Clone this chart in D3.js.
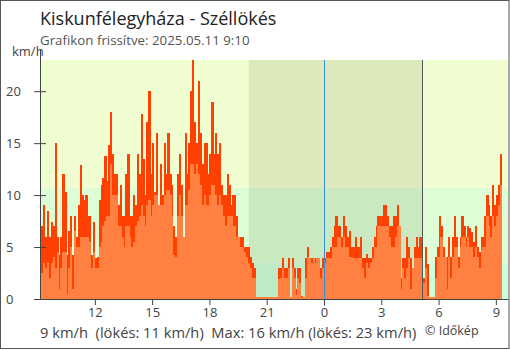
<!DOCTYPE html>
<html>
<head>
<meta charset="utf-8">
<title>Kiskunfélegyháza - Széllökés</title>
<script src="https://cdn.jsdelivr.net/npm/d3@7"></script>
<style>
  body { margin: 0; background: #fff; }
  text { font-family: "Open Sans", sans-serif; }
</style>
</head>
<body>
<script>

// wind data, one value every 6 minutes from 2025.05.10 9:12
var gust = [
  7, 9, 6, 8.5, 6, 7.4, 7, 15, 6, 4.2,
  6, 12, 10.3, 4.2, 6.5, 8, 4.2, 8, 6, 9,
  12.9, 10, 9.5, 10, 8, 8, 4.2, 7.4, 3.9, 4,
  9.5, 11, 11.6, 13.8, 11.4, 14.8, 18, 14, 12, 12,
  9, 11, 8, 8, 12, 14, 8, 8, 10, 9,
  14, 12, 17.8, 13.5, 10, 17, 20, 12, 15, 10.3,
  16, 8, 13, 10, 15, 12, 16, 12, 11, 7,
  6, 12, 14, 11, 6, 16, 12, 15, 20, 23,
  17, 15, 21, 16, 13, 15, 15, 12, 14, 19,
  14, 16, 14, 15, 11, 10, 10, 12, 11, 9,
  10, 10, 8, 6, 6, 6, 5, 5, 5, 4,
  3.5, 3, 0.2, 0.2, 0.2, 0.2, 0.2, 0.2, 0.2, 0.2,
  0.2, 0.2, 0.2, 0.2, 3, 3, 3.9, 3, 3, 3.9,
  0.2, 3.9, 3, 1, 3, 3, 0.3, 0.2, 3.9, 5,
  3.9, 3.9, 3.9, 3.9, 3.9, 3.9, 3, 3.9, 3.9, 4.5,
  4.5, 5, 6, 7, 8, 7, 7, 6, 8, 7,
  6, 6.5, 5, 5, 6, 5, 5, 6, 3.9, 3.9,
  4.3, 3.9, 3.9, 5, 6, 7, 8, 8, 8, 9,
  9, 8, 7, 7, 8, 8, 9, 7, 2, 3.9,
  3.9, 6, 5, 3.9, 3, 5, 6, 5, 6, 1,
  2, 5, 3.4, 0.2, 0.2, 0.2, 4, 5, 8, 7,
  5, 4, 4, 6, 4, 6, 8, 6, 4, 6,
  8, 7, 6, 7, 6.8, 6.4, 5.5, 7, 5, 4.5,
  6, 6, 8, 10, 9, 8, 11, 9, 10, 11, 14
];
var avg = [
  2.5, 3.5, 3, 3.6, 2, 3.5, 4, 3, 4.5, 1,
  3, 4.5, 4.5, 0.5, 3, 5, 1, 6.5, 5, 5,
  6, 6, 6, 6, 6, 5.5, 3, 4.5, 3, 3,
  5, 5.5, 7, 7.5, 8, 8, 13, 10, 10, 10,
  7, 7, 6, 5, 7, 7, 6, 5, 5.5, 7,
  7.5, 8, 9, 8, 7, 9, 9.5, 8, 9, 10,
  10, 9, 9, 9, 10, 10.5, 10.5, 10, 8, 4.2,
  4, 8, 10, 8, 6, 9, 9, 10.5, 13, 13,
  12, 13, 12, 11, 9, 10, 9, 9, 10, 11,
  11, 10, 9, 10, 9, 8, 7, 8, 8, 8,
  7, 7, 6, 6, 5, 5, 4.5, 4, 3.5, 3,
  2, 2, 0.2, 0.2, 0.2, 0.2, 0.2, 0.2, 0.2, 0.2,
  0.2, 0.2, 0.2, 0.2, 1.9, 2, 3, 2, 2, 3,
  0.2, 3, 2, 0.4, 2, 1.5, 0.2, 0.2, 2, 4,
  3.9, 3.5, 3.9, 3.5, 3.9, 3.9, 2, 3, 3.5, 3.9,
  3.9, 3.9, 5, 5, 5, 6, 6, 5, 6, 5,
  5, 4, 4, 3.9, 3.9, 3.9, 3.9, 3.9, 3, 2,
  3.5, 3, 3.5, 3.9, 5, 5, 7, 7, 7, 7,
  7, 7, 6, 5, 5, 6, 7, 7, 1, 3,
  2, 3, 3.9, 1, 3, 3.9, 3.9, 3.9, 3.9, 0.4,
  1.5, 3, 0.3, 0.2, 0.2, 0.2, 2, 4, 4, 6,
  4, 4, 1, 4, 2, 4, 5, 5, 3, 5,
  6, 6, 5, 6, 5, 5, 4, 5, 4, 3,
  4.7, 5, 5, 8, 7, 6, 8, 7, 8, 9, 11
];
var yTicks = [0, 5, 10, 15, 20];
var bandLimits = [0, 3.5, 10.7, 23];
var bandColors = ["#cbffdc", "#dcfdd6", "#effdd0"];

var startTime = new Date(2025, 4, 10, 9, 12);
var stepMin = 6;
var sunset = new Date(2025, 4, 10, 20, 4);
var midnight = new Date(2025, 4, 11, 0, 0);
var sunrise = new Date(2025, 4, 11, 5, 8);

var w = 510, h = 350;
var pLeft = 40, pRight = 508, pTop = 60, pBottom = 299;

var svg = d3.select("body").append("svg")
  .attr("width", w)
  .attr("height", h);

var x = d3.scaleTime()
  .domain([new Date(2025, 4, 10, 9, 7, 40), new Date(2025, 4, 11, 9, 38, 10)])
  .range([pLeft, pRight]);
var y = d3.scaleLinear().domain([0, 23]).range([pBottom, pTop]);

function tAt(i) { return new Date(startTime.getTime() + i * stepMin * 60000); }
var bw = x(tAt(1)) - x(tAt(0));

// background bands
for (var b = 0; b < bandColors.length; b++) {
  svg.append("rect")
    .attr("x", pLeft).attr("width", pRight - pLeft)
    .attr("y", y(bandLimits[b + 1]))
    .attr("height", y(bandLimits[b]) - y(bandLimits[b + 1]))
    .attr("fill", bandColors[b]);
}

// night
svg.append("rect")
  .attr("x", x(sunset)).attr("width", x(sunrise) - x(sunset))
  .attr("y", pTop).attr("height", pBottom - pTop)
  .attr("fill", "rgba(60,60,0,0.1)");

// gust bars, then average on top
svg.append("g").selectAll("rect")
  .data(gust).enter().append("rect")
  .attr("x", function(d, i) { return x(tAt(i)); })
  .attr("width", bw + 0.3)
  .attr("y", function(d) { return y(d); })
  .attr("height", function(d) { return pBottom - y(d); })
  .attr("fill", "#ff4000")
  .attr("shape-rendering", "crispEdges");

svg.append("g").selectAll("rect")
  .data(avg).enter().append("rect")
  .attr("x", function(d, i) { return x(tAt(i)); })
  .attr("width", bw + 0.3)
  .attr("y", function(d) { return y(d); })
  .attr("height", function(d) { return pBottom - y(d); })
  .attr("fill", "#ff8040")
  .attr("shape-rendering", "crispEdges");

// midnight and sunrise lines
svg.append("line")
  .attr("x1", Math.round(x(midnight)) + 0.5).attr("x2", Math.round(x(midnight)) + 0.5)
  .attr("y1", pTop).attr("y2", pBottom + 7)
  .attr("stroke", "#2f8fe0");
svg.append("line")
  .attr("x1", Math.round(x(sunrise)) + 0.5).attr("x2", Math.round(x(sunrise)) + 0.5)
  .attr("y1", pTop).attr("y2", pBottom)
  .attr("stroke", "#555");

// axes
var xAxis = svg.append("g")
  .attr("transform", "translate(0," + pBottom + ")")
  .call(d3.axisBottom(x).ticks(d3.timeHour.every(3)).tickFormat(d3.timeFormat("%-H")).tickSize(6).tickPadding(3).tickSizeOuter(0));
xAxis.select(".domain").attr("stroke", "#444");
xAxis.selectAll(".tick line").attr("stroke", "#444");
xAxis.selectAll(".tick text").attr("font-size", "13px").attr("fill", "#444")
  .attr("font-family", "Open Sans");

var yAxis = svg.append("g")
  .attr("transform", "translate(" + pLeft + ",0)")
  .call(d3.axisLeft(y).tickValues(yTicks).tickSize(6).tickSizeOuter(0));
yAxis.select(".domain").remove();
yAxis.selectAll(".tick line").attr("x2", 6).attr("x1", -6).attr("stroke", "#444");
yAxis.selectAll(".tick text").attr("x", -34).attr("text-anchor", "start")
  .attr("font-size", "13px").attr("fill", "#444").attr("font-family", "Open Sans");
svg.append("line")
  .attr("x1", pLeft + 0.5).attr("x2", pLeft + 0.5)
  .attr("y1", 50).attr("y2", pBottom)
  .attr("stroke", "#444");

// frame
svg.append("rect")
  .attr("x", 0.5).attr("y", 0.5)
  .attr("width", w - 1.5).attr("height", h - 2)
  .attr("fill", "none").attr("stroke", "#555");

// texts
svg.append("text").attr("x", 40).attr("y", 25)
  .attr("font-size", "18px").attr("fill", "#222")
  .text("Kiskunfélegyháza - Széllökés");
svg.append("text").attr("x", 40).attr("y", 45)
  .attr("font-size", "13.3px").attr("fill", "#555")
  .text("Grafikon frissítve: 2025.05.11 9:10");
svg.append("text").attr("x", 12).attr("y", 56)
  .attr("font-size", "13px").attr("fill", "#444")
  .text("km/h");
svg.append("text").attr("x", 40).attr("y", 338)
  .attr("font-size", "14.7px").attr("fill", "#444")
  .attr("xml:space", "preserve")
  .text("9 km/h  (lökés: 11 km/h)  Max: 16 km/h (lökés: 23 km/h)");
svg.append("text").attr("x", 425).attr("y", 335)
  .attr("font-size", "12.5px").attr("fill", "#444")
  .text("© Időkép");

</script>
</body>
</html>
